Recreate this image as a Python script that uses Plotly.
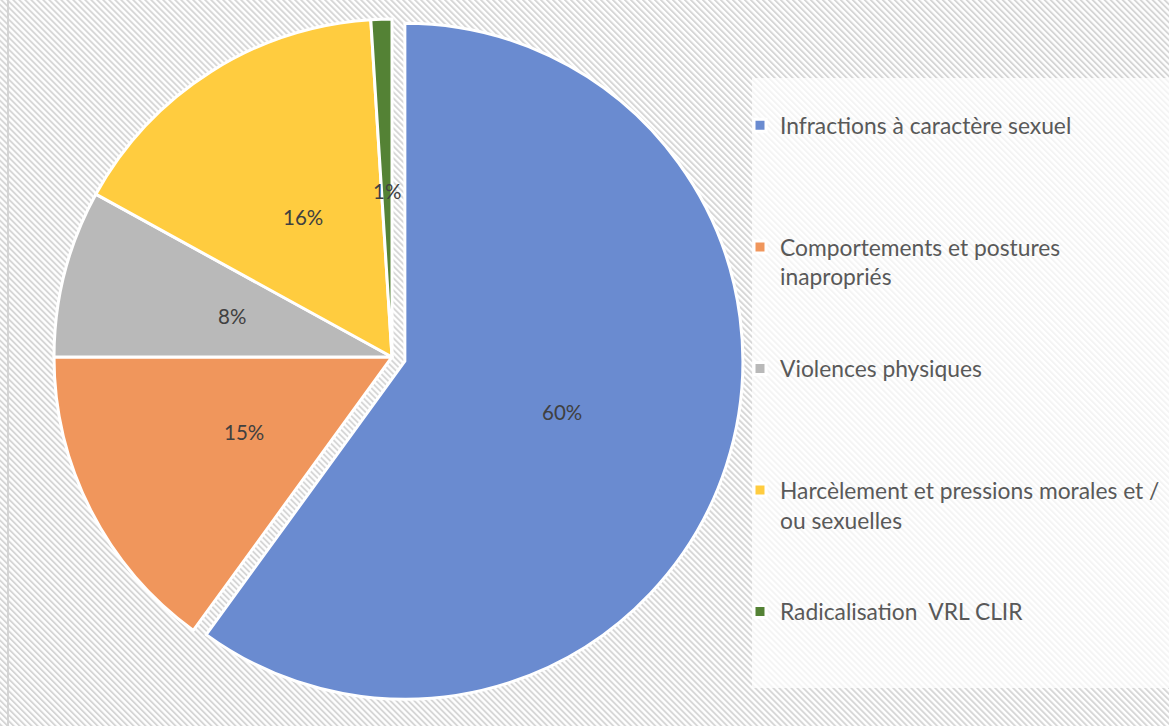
import base64
import math
import plotly.graph_objects as go

categories = [
    "Infractions à caractère sexuel",
    "Comportements et postures inapropriés",
    "Violences physiques",
    "Harcèlement et pressions morales et / ou sexuelles",
    "Radicalisation  VRL CLIR",
]
values = [60, 15, 8, 16, 1]
colors = ["#6a8bd0", "#f0965c", "#b9b9b9", "#ffcc3f", "#548235"]
pulls = [0.04, 0, 0, 0, 0]

# legend display text (wrapping + padding lines to mimic Excel's spacing)
legend_text = [
    "Infractions à caractère sexuel<br> <br> <br> ",
    "Comportements et postures<br>inapropriés<br> <br> ",
    "Violences physiques<br> <br> <br> ",
    "Harcèlement et pressions morales et /<br>ou sexuelles<br> <br> ",
    "Radicalisation  VRL CLIR",
]

W, H = 1169, 726
# pie geometry (pixels)
cx, cy, r = 392.0, 357.0, 338.0
half = r * (1 + max(pulls))
dom_x = [(cx - half) / W, (cx + half) / W]
dom_y = [1 - (cy + half) / H, 1 - (cy - half) / H]

svg = f'''<svg xmlns="http://www.w3.org/2000/svg" width="{W}" height="{H}">
<defs><pattern id="p" width="4.24" height="10" patternUnits="userSpaceOnUse" patternTransform="rotate(-45)">
<rect width="1.9" height="10" fill="#d6d6d6"/></pattern></defs>
<rect width="{W}" height="{H}" fill="#ffffff"/>
<rect width="{W}" height="{H}" fill="url(#p)"/>
</svg>'''
bg = "data:image/svg+xml;base64," + base64.b64encode(svg.encode()).decode()

fig = go.Figure(
    go.Pie(
        labels=legend_text,
        values=values,
        sort=False,
        direction="clockwise",
        rotation=0,
        pull=pulls,
        marker=dict(colors=colors, line=dict(color="#ffffff", width=3)),
        textinfo="none",
        domain=dict(x=dom_x, y=dom_y),
        hovertext=categories,
        hoverinfo="text+percent",
    )
)

# data labels placed like Excel (at ~half radius along each slice's mid-angle)
total = sum(values)
annotations = []
cum = 0.0
for v, p in zip(values, pulls):
    a = (cum + v / 2) / total * 2 * math.pi
    cum += v
    rr = 0.49 * r + p * r
    px = cx + rr * math.sin(a)
    py = cy - rr * math.cos(a)
    annotations.append(dict(
        x=px / W, y=1 - py / H, xref="paper", yref="paper",
        text=f"{round(v / total * 100)}%", showarrow=False,
        xanchor="center", yanchor="middle",
        font=dict(family="Lato", size=20.5, color="#404040"),
    ))

fig.update_layout(
    width=W,
    height=H,
    margin=dict(l=0, r=0, t=0, b=0),
    paper_bgcolor="#ffffff",
    showlegend=True,
    legend=dict(
        x=740 / W,
        y=1 - 104 / H,
        xanchor="left",
        yanchor="top",
        bgcolor="rgba(0,0,0,0)",
        font=dict(family="Lato", size=22.8, color="#595959"),
        valign="top",
        itemclick=False,
    ),
    annotations=annotations,
    images=[
        dict(source=bg, xref="paper", yref="paper", x=0, y=1, sizex=1, sizey=1,
             xanchor="left", yanchor="top", sizing="stretch", layer="below")
    ],
    shapes=[
        dict(type="rect", xref="paper", yref="paper", x0=752 / W, x1=1.0,
             y0=1 - 688 / H, y1=1 - 78 / H, fillcolor="rgba(255,255,255,0.72)",
             line=dict(width=0), layer="below"),
        dict(type="line", xref="paper", yref="paper", x0=8 / W, x1=8 / W, y0=0, y1=1,
             line=dict(color="#d4d4d4", width=2), layer="below"),
    ],
)

fig.write_html("out.html")
